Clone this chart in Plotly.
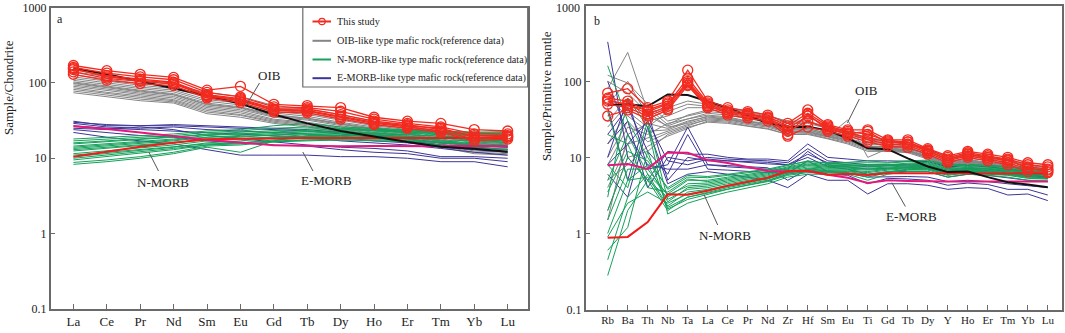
import plotly.graph_objects as go

W, H = 1065, 333

# ---------------- categories ----------------
REE = ["La", "Ce", "Pr", "Nd", "Sm", "Eu", "Gd", "Tb", "Dy", "Ho", "Er", "Tm", "Yb", "Lu"]
SPIDER = ["Rb", "Ba", "Th", "Nb", "Ta", "La", "Ce", "Pr", "Nd", "Zr", "Hf", "Sm", "Eu",
          "Ti", "Gd", "Tb", "Dy", "Y", "Ho", "Er", "Tm", "Yb", "Lu"]
Y_TICKS = [0.1, 1, 10, 100, 1000]
Y_TICKTEXT = ["0.1", "1", "10", "100", "1000"]
Y_TICKS_B = [0.1, 1, 10, 100]
Y_TICKTEXT_B = ["0.1", "1", "10", "100"]

# ---------------- panel a : chondrite-normalised REE ----------------
a_oib = [156, 130, 105, 84, 68, 53, 38, 29, 23, 19.4, 16.4, 14.2, 13.4, 12.2]
a_nmorb = [10.5, 12.2, 14.2, 16, 17.8, 18.1, 18.5, 18.6, 18.5, 18.5, 18.6, 18.5, 18.9, 18.5]
a_emorb = [26.6, 24.5, 22, 19.7, 17.6, 16.2, 14.9, 14.7, 14.4, 14.5, 14.4, 14.4, 14.7, 14.4]

a_samples = [
    [170, 145, 130, 118, 80, 90, 52, 50, 47, 35, 31, 29, 24, 23],
    [160, 135, 120, 110, 75, 65, 48, 47, 42, 33, 29, 26, 21, 21],
    [150, 125, 112, 102, 70, 62, 45, 45, 38, 31, 28, 24, 20, 20],
    [140, 115, 105, 97, 66, 58, 43, 42, 35, 29, 26, 23, 18, 19],
    [130, 108, 98, 92, 63, 55, 41, 40, 33, 28, 25, 22, 17, 18],
    [155, 120, 108, 100, 68, 60, 44, 43, 36, 30, 27, 25, 19, 19.5],
]
a_oib_like = [
    [140, 122, 106, 95, 74, 66, 50, 45, 38, 31, 27, 23, 19, 18],
    [128, 112, 98, 88, 68, 60, 46, 42, 36, 30, 26, 22, 18, 17],
    [120, 105, 93, 84, 64, 57, 44, 40, 34, 28, 25, 21, 17, 16],
    [114, 100, 88, 80, 60, 54, 42, 38, 32, 27, 24, 20, 16.5, 15.5],
    [108, 95, 84, 76, 57, 51, 40, 36, 30, 26, 23, 19, 16, 15],
    [103, 90, 80, 72, 54, 48, 38, 34, 29, 25, 22, 18, 15, 14.5],
    [100, 88, 78, 70, 52, 47, 37, 34, 28.5, 24.5, 21.5, 17.5, 14.5, 14],
    [98, 86, 76, 69, 51, 46, 36, 33, 28, 24, 21, 17, 14.5, 14],
    [94, 82, 73, 66, 49, 44, 35, 32, 27, 23, 20, 16.5, 14, 13.5],
    [90, 79, 70, 63, 47, 42, 33, 30, 26, 22, 19.5, 16, 13.5, 13],
    [86, 75, 67, 60, 45, 40, 32, 29, 25, 21, 19, 15.5, 13, 12.5],
    [82, 72, 64, 58, 43, 38, 31, 28, 24, 20.5, 18.5, 15, 12.5, 12],
    [78, 69, 61, 56, 41, 37, 30, 27, 23, 20, 18, 14.5, 12, 11.5],
    [74, 66, 58, 54, 39, 35, 29, 26, 22, 19, 17, 14, 11.5, 11],
]
a_nmorb_like = [
    [8.3, 9, 10, 11.5, 14, 12, 17, 20, 20, 20, 19, 17, 16, 16],
    [8.8, 9.5, 10.5, 12, 14.5, 15, 16.5, 17.5, 18, 18, 17.5, 16.5, 15.5, 15],
    [9.5, 10.5, 11.5, 13, 15, 16, 17.5, 18.5, 19, 19, 18.5, 17.5, 17, 16.5],
    [10, 11, 12, 13.5, 15, 15.5, 16.5, 17, 17.5, 17.5, 17, 16, 15, 14.5],
    [10.5, 11.5, 12.5, 14, 16, 17, 18.5, 19.5, 20, 20, 19.5, 18.5, 18, 17.5],
    [11, 12, 13, 14, 15.5, 16, 17, 17.5, 17.5, 17, 16.5, 15, 14, 13],
    [11.5, 12.5, 13.5, 15, 17, 18, 19.5, 20.5, 21, 21, 20.5, 19.5, 19, 18.5],
    [12.5, 13.5, 14.5, 16, 18, 19, 20.5, 21.5, 22, 22, 21.5, 20.5, 20, 19.5],
    [13, 14, 15, 16, 17.5, 18, 19, 19.5, 19.5, 19, 18, 16, 15, 14.5],
    [13.5, 14.5, 15.5, 17, 19, 20, 21.5, 22.5, 23, 23, 22, 21, 20.5, 20],
    [14, 15, 16, 17.5, 19, 19.5, 20.5, 21, 21, 20.5, 19.5, 18.5, 17.5, 17],
    [14.5, 15.5, 16.5, 18, 20, 21, 22.5, 23.5, 24, 23.5, 22.5, 21.5, 21, 20.5],
    [15.5, 16.5, 17.5, 19, 21, 22, 23.5, 24.5, 24.5, 24, 23, 22, 21.5, 21],
    [16, 17, 18, 19, 20.5, 21, 22, 22.5, 22, 21.5, 20.5, 19.5, 18.5, 18],
    [17, 18, 19, 20, 22, 23, 25, 26, 25, 24.5, 23.5, 22.5, 22, 22],
    [18, 19, 20, 21, 23, 24, 27, 29, 26, 25, 24, 23, 22, 22.5],
]
a_emorb_like = [
    [31, 27, 27, 28, 27, 26, 25, 24, 22, 20, 18, 16, 15, 14],
    [30, 28, 27, 27, 26, 25, 24, 23, 21, 19, 17, 15, 14, 13],
    [29, 26, 25, 26, 24, 23, 22, 21, 19, 17, 16, 14, 13, 12],
    [27, 25, 24, 23, 22, 21, 20, 19, 17, 16, 15, 13.5, 12, 11],
    [25, 24, 26, 24, 20, 18, 16.5, 15, 14, 13.5, 12.5, 10.5, 10.5, 10],
    [24, 22, 20, 19, 17, 16, 15, 14.5, 13, 12, 11.5, 10, 10, 9],
    [22, 19, 17, 15.5, 13, 11, 11, 11, 10.5, 10.5, 10, 9, 9, 7.7],
]

# ---------------- panel b : primitive-mantle-normalised spider ----------------
b_oib = [48.8, 50, 47, 67.3, 65.9, 53.9, 45, 35.1, 28.4, 25, 25.2, 22.5, 17.9, 13.2,
         12.8, 9.7, 7.6, 6.4, 6.5, 5.5, 4.7, 4.4, 4.05]
b_nmorb = [0.88, 0.9, 1.41, 3.27, 3.22, 3.64, 4.23, 4.78, 5.39, 6.6, 6.63, 5.92, 6.07,
           5.85, 6.17, 6.2, 6.17, 6.15, 6.16, 6.19, 6.16, 6.19, 6.15]
b_emorb = [7.9, 8.2, 7.06, 11.6, 11.5, 9.2, 8.45, 7.4, 6.6, 6.5, 6.6, 5.9, 5.4, 4.6,
           5.0, 4.9, 4.8, 4.8, 4.8, 4.8, 4.8, 4.8, 4.8]

b_samples = [
    [70, 80, 45, 55, 140, 55, 45, 40, 36, 28, 42, 27, 23, 23, 17, 17, 13, 10.5, 12, 11, 10, 8.5, 8],
    [60, 55, 40, 50, 110, 52, 42, 38, 34, 26, 38, 26, 22, 20, 16.5, 16, 12.5, 10, 11.5, 10.5, 9.5, 8, 7.5],
    [55, 50, 37, 47, 100, 50, 40, 36, 33, 24, 35, 25, 21, 18, 16, 15, 12, 9.5, 11, 10, 9, 7.5, 7],
    [50, 45, 35, 44, 95, 48, 38, 35, 32, 22, 30, 24, 20, 17, 15, 14.5, 11.5, 9, 10.5, 9.5, 8.5, 7, 6.8],
    [35, 42, 32, 42, 88, 45, 36, 33, 30, 19, 25, 22, 19, 16, 14, 13.5, 11, 8.5, 10, 9, 8, 6.5, 6.3],
    [58, 48, 42, 52, 90, 47, 39, 37, 33, 20, 37, 23, 20.5, 22, 15.5, 16, 12.2, 9.2, 11, 10, 9.2, 7.2, 6.5],
]
b_oib_like = [
    [120, 95, 50, 30, 35, 40, 38, 33, 30, 25, 24, 21, 18, 14, 14, 13, 11, 8.5, 9.5, 8.5, 8, 7, 6.5],
    [80, 240, 40, 25, 28, 33, 32, 28, 26, 22, 22, 19, 17, 13, 13, 12, 10.5, 8, 9, 8, 7.5, 6.5, 6],
    [30, 60, 30, 35, 45, 45, 42, 37, 33, 28, 28, 24, 21, 17, 16, 15, 12.5, 9.5, 10.5, 9.5, 9, 7.5, 7],
    [15, 40, 25, 40, 50, 47, 44, 39, 35, 30, 30, 25, 22, 18, 17, 15.5, 13, 10, 11, 10, 9.5, 8, 7.5],
    [8, 25, 20, 28, 32, 36, 34, 30, 28, 23, 23, 20, 17.5, 14, 13.5, 12.5, 10.5, 8, 9, 8.2, 7.5, 6.5, 6],
    [4, 15, 18, 22, 27, 31, 30, 27, 25, 21, 21, 18.5, 16, 13, 12.5, 12, 10, 7.5, 8.5, 7.8, 7.2, 6.2, 5.7],
    [2, 10, 12, 20, 25, 29, 28, 25.5, 23.5, 20, 20, 17.5, 15, 12, 12, 11.5, 9.5, 7.2, 8.2, 7.5, 7, 6, 5.5],
    [1.5, 20, 28, 24, 30, 34, 32, 29, 27, 22, 22, 19, 31, 10, 13, 12, 10, 7.6, 8.8, 8, 7.4, 6.3, 5.8],
    [50, 100, 35, 26, 32, 38, 36, 32, 29, 24, 24, 20.5, 18, 15, 14.5, 13.5, 11, 8.3, 9.3, 8.5, 7.8, 6.8, 6.3],
    [25, 50, 45, 27, 36, 42, 40, 35, 31, 26, 26, 22, 19.5, 16, 15, 14, 11.5, 8.8, 9.8, 9, 8.3, 7.2, 6.7],
    [60, 35, 22, 23, 29, 35, 33, 29.5, 27.5, 23, 23, 19.5, 17, 14, 13.8, 13, 10.8, 8.1, 9.1, 8.3, 7.6, 6.6, 6.1],
    [10, 30, 16, 21, 26, 32, 31, 28, 26, 21.5, 21.5, 19, 16.5, 13.5, 13.2, 12.4, 10.2, 7.8, 8.7, 8, 7.3, 6.4, 5.9],
    [100, 70, 38, 45, 55, 50, 46, 41, 36, 29, 29, 24.5, 21.5, 17.5, 16.5, 15, 12.8, 9.8, 10.8, 9.8, 9.2, 7.8, 7.3],
    [5, 8, 14, 19, 24, 30, 29, 26, 24, 20, 20.5, 18, 15.5, 12.5, 12.2, 11.8, 9.8, 7.4, 8.4, 7.6, 7, 6, 5.3],
]
b_nmorb_like = [
    [0.28, 2, 5, 2, 3, 3.5, 4, 4.5, 5, 6, 6.5, 6.5, 6.5, 6, 6.5, 7, 7, 6, 6.5, 6.2, 6, 5.5, 5.5],
    [0.45, 3, 6, 2.3, 3.5, 3.8, 4.3, 4.8, 5.3, 6.3, 7, 6.8, 6.8, 6.5, 7, 7.3, 7.4, 6.3, 6.8, 6.5, 6.2, 5.8, 5.7],
    [1, 5, 8, 2.6, 4, 4.2, 4.7, 5.2, 5.7, 6.7, 7.5, 7.2, 7.2, 7, 7.3, 7.6, 7.8, 6.6, 7, 6.8, 6.5, 6.1, 6],
    [2, 10, 5, 3, 4.5, 4.6, 5.1, 5.6, 6.1, 7.1, 8, 7.6, 7.6, 7.5, 7.7, 8, 8.2, 7, 7.3, 7.1, 6.8, 6.4, 6.3],
    [5, 20, 6, 3.3, 5, 5, 5.5, 6, 6.5, 7.5, 8.5, 8, 8, 8, 8, 8.4, 8.6, 7.3, 7.6, 7.4, 7.1, 6.7, 6.6],
    [160, 30, 10, 3.8, 5.5, 5.4, 5.8, 6.3, 6.8, 7.8, 9, 8.3, 8.4, 8.5, 8.4, 8.8, 9, 7.7, 7.9, 7.7, 7.4, 7, 6.9],
    [3, 60, 25, 1.8, 2.5, 3, 3.5, 4, 4.5, 5.5, 6, 6, 6, 5, 6, 6.5, 6.5, 5.5, 6, 5.8, 5.5, 5, 5],
    [0.6, 1.2, 12, 2.1, 2.8, 3.3, 3.8, 4.3, 4.8, 5.8, 6.3, 6.3, 6.2, 5.5, 6.3, 6.8, 6.8, 5.8, 6.3, 6, 5.8, 5.3, 5.2],
    [8, 4, 30, 2.8, 3.8, 4, 4.5, 5, 5.5, 6.5, 7.2, 7, 7, 6.8, 7.1, 7.4, 7.6, 6.5, 6.9, 6.6, 6.4, 6, 5.9],
    [1.5, 7, 7, 3.2, 4.2, 4.4, 4.9, 5.4, 5.9, 6.9, 7.8, 7.4, 7.4, 7.2, 7.5, 7.8, 8, 6.8, 7.2, 7, 6.7, 6.3, 6.2],
    [20, 15, 4, 3.5, 5.2, 4.8, 5.3, 5.8, 6.3, 7.3, 8.2, 7.8, 7.8, 7.7, 7.8, 8.2, 8.4, 7.1, 7.4, 7.2, 6.9, 6.5, 6.4],
    [0.9, 2.5, 3.5, 2.5, 3.3, 3.7, 4.2, 4.7, 5.2, 6.2, 6.8, 6.7, 6.6, 6.3, 6.8, 7.1, 7.2, 6.2, 6.6, 6.4, 6.1, 5.6, 5.5],
    [40, 5, 5.5, 2.2, 3, 3.4, 3.9, 4.4, 4.9, 6, 6.6, 6.4, 6.3, 5.8, 6.4, 6.9, 7, 6, 6.4, 6.1, 5.9, 5.4, 5.3],
    [3.5, 12, 9, 4, 5.8, 5.6, 6, 6.5, 7, 8, 8.8, 8.5, 8.6, 9, 8.6, 9, 9.2, 8, 8.1, 7.9, 7.6, 7.2, 7.2],
]
b_emorb_like = [
    [330, 10, 5, 12, 11, 11, 10, 9.5, 9.5, 9, 15, 10, 9.5, 9, 9, 9, 8.8, 7.5, 7.8, 7.5, 7, 6.5, 6],
    [10, 60, 7, 8, 25, 8, 7.5, 7.2, 7, 7, 12, 8, 7.5, 7, 7.2, 7.3, 7.2, 6.2, 6.6, 6.4, 6, 5.6, 5.3],
    [45, 5, 40, 5, 10, 9, 9, 8.5, 8.2, 8, 10, 7.5, 7, 6, 6.5, 6.5, 6.5, 5.5, 6, 5.8, 5.4, 5, 4.8],
    [15, 30, 4, 10, 9, 10, 9.5, 9.2, 9, 8.5, 13, 9, 8.5, 8, 8, 8, 7.8, 6.8, 7.2, 7, 6.5, 6, 5.5],
    [6, 3, 25, 4.5, 6, 6.5, 6, 5.5, 5, 4, 6, 5, 5, 3.3, 4.5, 4.5, 4.3, 3.8, 4, 3.9, 3.2, 3.3, 2.7],
    [20, 45, 12, 6, 20, 7, 6.8, 6.5, 6.3, 6.2, 9, 6.5, 6.2, 5.5, 5.6, 5.6, 5.5, 4.8, 5, 4.8, 4.5, 4.2, 4],
    [8, 15, 30, 9, 8, 9.5, 9, 8.8, 8.6, 8, 11, 8.5, 8, 7.5, 7.8, 7.7, 7.6, 6.5, 7, 6.7, 6.2, 5.8, 5.5],
    [100, 20, 8, 7, 7, 8, 7.8, 7.5, 7.3, 5, 7, 6, 5.8, 4.5, 5.3, 5.2, 5, 4.3, 4.6, 4.4, 3.8, 3.8, 3.2],
]

# ---------------- styles ----------------
RED = "#f32a1f"
GRAY = "#858585"
GREEN = "#16a05a"
BLUE = "#3d3597"
MAGENTA = "#e5177c"
NRED = "#f01c1c"
BLACK = "#111111"
AXIS = "#6a6a6a"
FONT = "Liberation Serif, Times New Roman, serif"

fig = go.Figure()


def add_lines(cats, rows, color, width, xa, ya):
    for r in rows:
        fig.add_trace(go.Scatter(x=cats, y=r, mode="lines", xaxis=xa, yaxis=ya,
                                 line=dict(color=color, width=width),
                                 showlegend=False, hoverinfo="skip"))


def add_samples(cats, rows, xa, ya):
    for r in rows:
        fig.add_trace(go.Scatter(x=cats, y=r, mode="lines+markers", xaxis=xa, yaxis=ya,
                                 line=dict(color=RED, width=1.3),
                                 marker=dict(symbol="circle-open", size=10,
                                             color=RED, line=dict(color=RED, width=1.3)),
                                 showlegend=False, hoverinfo="skip"))


for cats, data, xa, ya in [
    (REE, (a_oib_like, a_emorb_like, a_nmorb_like, a_emorb, a_nmorb, a_oib, a_samples), "x", "y"),
    (SPIDER, (b_oib_like, b_emorb_like, b_nmorb_like, b_emorb, b_nmorb, b_oib, b_samples), "x2", "y2"),
]:
    oibl, emorbl, nmorbl, em, nm, oib, samp = data
    add_lines(cats, oibl, GRAY, 1.0, xa, ya)
    add_lines(cats, emorbl, BLUE, 1.0, xa, ya)
    add_lines(cats, nmorbl, GREEN, 1.0, xa, ya)
    add_lines(cats, [em], MAGENTA, 2.0, xa, ya)
    add_lines(cats, [nm], NRED, 2.0, xa, ya)
    add_lines(cats, [oib], BLACK, 2.0, xa, ya)
    add_samples(cats, samp, xa, ya)


def px(x):
    return min(max(x / W, 0.0), 1.0)


def py(y):
    return min(max(1 - y / H, 0.0), 1.0)


common_x = dict(showline=True, linecolor=AXIS, linewidth=1.5, mirror=True,
                ticks="inside", ticklen=5, tickcolor=AXIS, tickwidth=1,
                showgrid=False, zeroline=False, fixedrange=True, automargin=False)
common_y = dict(type="log", showline=True, linecolor=AXIS, linewidth=1.5, mirror=True,
                ticks="inside", ticklen=5, tickcolor=AXIS, tickwidth=1,
                tickmode="array",
                showgrid=False, zeroline=False, fixedrange=True, automargin=False,
                tickfont=dict(family=FONT, size=12, color="#222"))

fig.update_layout(
    template="none",
    width=W, height=H,
    margin=dict(l=0, r=0, t=0, b=0, pad=0),
    paper_bgcolor="white", plot_bgcolor="white",
    showlegend=False,
    xaxis=dict(domain=[px(50.7), px(527.7)], range=[-0.68, 13.6], anchor="y",
               type="category", tickfont=dict(family=FONT, size=13, color="#222"), **common_x),
    yaxis=dict(domain=[py(309), py(7.5)], range=[-1, 3], anchor="x",
               tickvals=Y_TICKS, ticktext=Y_TICKTEXT, **common_y),
    xaxis2=dict(domain=[px(585.7), px(1062)], range=[-1.1, 22.71], anchor="y2",
                type="category", tickfont=dict(family=FONT, size=11, color="#222"), **common_x),
    yaxis2=dict(domain=[py(309.5), py(6)], range=[-1, 2.99], anchor="x2",
                tickvals=Y_TICKS_B, ticktext=Y_TICKTEXT_B, **common_y),
)

annotations = []
shapes = []


def text(x, y, s, size=13, angle=0, xanchor="center"):
    annotations.append(dict(x=px(x), y=py(y), xref="paper", yref="paper", text=s,
                            showarrow=False, xanchor=xanchor, yanchor="middle",
                            textangle=angle, font=dict(family=FONT, size=size, color="#222")))


def seg(x0, y0, x1, y1, color="#555", width=1):
    shapes.append(dict(type="line", xref="paper", yref="paper",
                       x0=px(x0), y0=py(y0), x1=px(x1), y1=py(y1),
                       line=dict(color=color, width=width)))


# axis titles, top tick label of panel b and panel letters
text(8, 88, "Sample/Chondrite", size=13, angle=-90)
text(547, 96, "Sample/Primitive mantle", size=13, angle=-90)
text(582, 8, Y_TICKTEXT[-1], size=12, xanchor="right")
text(60, 19, "a", size=12)
text(597, 21, "b", size=12)

# reference-curve labels with leader lines
text(269, 76, "OIB")
seg(259.5, 83, 246, 105.5)
text(162.6, 182, "N-MORB")
seg(158.5, 171, 148.8, 152)
text(326, 180.6, "E-MORB")
seg(313, 171, 302.8, 152)

text(866, 90.4, "OIB")
seg(859.4, 99, 847.4, 122.9)
text(724.5, 235.5, "N-MORB")
seg(717.7, 225, 704, 194.5)
text(911.6, 216.7, "E-MORB")
seg(905.4, 206.5, 891.8, 182.6)

# legend (panel a)
shapes.append(dict(type="rect", xref="paper", yref="paper",
                   x0=px(302.8), y0=py(87), x1=px(527.7), y1=py(7.5),
                   line=dict(color=AXIS, width=1.2), fillcolor="white", layer="above"))
legend_items = [
    ("This study", RED, 21.5),
    ("OIB-like type mafic rock(reference data)", GRAY, 40.8),
    ("N-MORB-like type mafic rock(reference data)", GREEN, 59.5),
    ("E-MORB-like type mafic rock(reference data)", BLUE, 78.2),
]
for label, color, yy in legend_items:
    shapes.append(dict(type="line", xref="paper", yref="paper",
                       x0=px(312.5), y0=py(yy), x1=px(331), y1=py(yy),
                       line=dict(color=color, width=2), layer="above"))
    text(334.5, yy, label, size=10.2, xanchor="left")
shapes.append(dict(type="circle", xref="paper", yref="paper",
                   x0=px(318.8), y0=py(24.7), x1=px(325.2), y1=py(18.3),
                   line=dict(color=RED, width=1.2), fillcolor="rgba(0,0,0,0)", layer="above"))

fig.update_layout(annotations=annotations, shapes=shapes)
# remove the browser's default page margin so the figure fills the window exactly
fig.write_html("out.html", config={"displayModeBar": False},
               post_script="document.body.style.margin='0px';")
